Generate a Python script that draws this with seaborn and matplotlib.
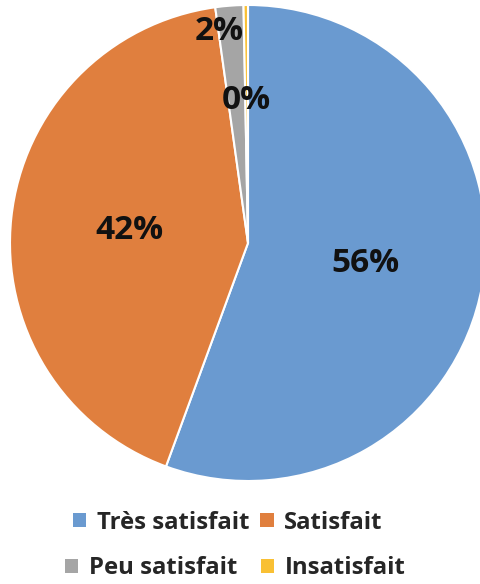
import numpy as np
import matplotlib
matplotlib.use("Agg")
import matplotlib.pyplot as plt
import seaborn as sns
from matplotlib.patches import Patch

# data
categories = ['Très satisfait', 'Satisfait', 'Peu satisfait', 'Insatisfait']
values = [55.6, 42.2, 1.9, 0.3]
colors = ['#6a9ad0', '#e07f3e', '#a5a5a5', '#f9c034']

sns.set_theme(style='white')
plt.rcParams['font.family'] = ['Open Sans', 'DejaVu Sans']

fig = plt.figure(figsize=(4.8, 5.84), dpi=100)
ax = fig.add_axes([10 / 480, 1 - 481 / 584, 476 / 480, 476 / 584])

wedges, texts, autotexts = ax.pie(
    values,
    colors=colors,
    startangle=90,
    counterclock=False,
    autopct='%1.0f%%',
    pctdistance=0.5,
    radius=1,
    wedgeprops=dict(edgecolor='white', linewidth=1.5),
    textprops=dict(fontsize=24, fontweight='bold', color='#111111'),
)

# move the small-slice labels up along their wedge
for w, t, dist in zip(wedges[2:], autotexts[2:], [0.89, 0.60]):
    mid = np.deg2rad((w.theta1 + w.theta2) / 2)
    t.set_position((dist * np.cos(mid) - 0.05 * (dist > 0.8), dist * np.sin(mid)))

ax.set_xlim(-1, 1)
ax.set_ylim(-1, 1)
ax.set_aspect('equal')
ax.axis('off')

# legend rows, as in the original (two entries per row)
handles = [Patch(facecolor=c, edgecolor='none') for c in colors]
rows = [(0.475, 0.105, 0.45), (0.49, 0.027, 1.0)]
for i, (x, y, spacing) in enumerate(rows):
    fig.legend(
        handles[2 * i:2 * i + 2],
        categories[2 * i:2 * i + 2],
        loc='center',
        bbox_to_anchor=(x, y),
        ncol=2,
        frameon=False,
        prop=dict(size=17.2, weight='bold'),
        handlelength=0.55,
        handleheight=0.55,
        handletextpad=0.45,
        columnspacing=spacing,
    )

fig.savefig('out.png', dpi=100)
